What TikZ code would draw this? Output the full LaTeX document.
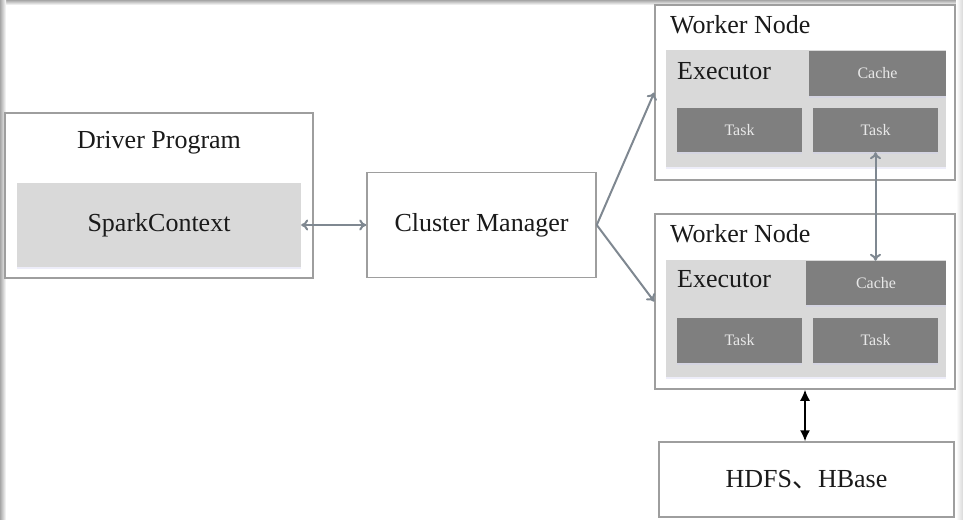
\documentclass[tikz,border=0pt]{standalone}
\usepackage{fontspec}
\setmainfont{Liberation Serif}
\newfontfamily\cjk{Noto Sans CJK SC}
\usetikzlibrary{arrows.meta,shadows}
\definecolor{boxline}{HTML}{9E9E9E}
\definecolor{lightfill}{HTML}{D9D9D9}
\definecolor{darkfill}{HTML}{7F7F7F}
\definecolor{arrowgray}{HTML}{7F8891}
\definecolor{txt}{HTML}{1A1A1A}
\definecolor{smalltxt}{HTML}{E8E8E8}
\tikzset{
  frame/.style={draw=boxline, line width=1.5pt, fill=white, inner sep=0pt},
  lightbox/.style={fill=lightfill, draw=none, inner sep=0pt,
    drop shadow={shadow xshift=0pt, shadow yshift=-2pt, fill=black!30!blue!20, opacity=0.35}},
  darkbox/.style={fill=darkfill, draw=none, inner sep=0pt, text=smalltxt,
    font=\fontsize{16}{18}\selectfont,
    drop shadow={shadow xshift=0pt, shadow yshift=-2pt, fill=black!30!blue!20, opacity=0.35}},
  bigtext/.style={text=txt, font=\fontsize{26}{30}\selectfont, inner sep=0pt},
  garrow/.style={draw=arrowgray, line width=2pt, {To[length=7pt,width=11pt]}-{To[length=7pt,width=11pt]}},
  garrowone/.style={draw=arrowgray, line width=2pt, -{To[length=7pt,width=11pt]}},
  barrow/.style={draw=black, line width=1.5pt, {Latex[length=11pt,width=10pt]}-{Latex[length=11pt,width=10pt]}},
}
\begin{document}
\begin{tikzpicture}[x=1pt,y=-1pt]
\useasboundingbox (0,0) rectangle (963,519);
% page frame shadows
\shade[top color=black!35, bottom color=white] (0,0) rectangle (963,5);
\shade[left color=black!35, right color=white] (0,0) rectangle (6,519);
\shade[left color=white, right color=black!15] (956,0) rectangle (963,519);

% Driver
\node[frame, minimum width=308pt, minimum height=165pt] (driver) at (159,195.5) {};
\node[bigtext] (drivertxt) at (159,143) {Driver Program};
\node[lightbox, bigtext, minimum width=284pt, minimum height=84pt] (sc) at (159,225) {SparkContext};

% Cluster manager
\node[frame, bigtext, minimum width=229pt, minimum height=105pt] (cm) at (481.5,225) {Cluster Manager};

% Worker 1
\node[frame, minimum width=300pt, minimum height=175pt] (w1) at (805,92.5) {};
\node[bigtext, anchor=west] (w1txt) at (670,25) {Worker Node};
\node[lightbox, minimum width=280pt, minimum height=117pt] (e1) at (806,108.5) {};
\node[bigtext, anchor=west] (e1txt) at (677,71) {Executor};
\node[darkbox, minimum width=137pt, minimum height=45pt] (c1) at (877.5,73.5) {Cache};
\node[darkbox, minimum width=125pt, minimum height=44pt] (t1a) at (739.5,130) {Task};
\node[darkbox, minimum width=125pt, minimum height=44pt] (t1b) at (875.5,130) {Task};

% Worker 2
\node[frame, minimum width=300pt, minimum height=175pt] (w2) at (805,301.5) {};
\node[bigtext, anchor=west] (w2txt) at (670,234) {Worker Node};
\node[lightbox, minimum width=280pt, minimum height=117pt] (e2) at (806,318.5) {};
\node[bigtext, anchor=west] (e2txt) at (677,279) {Executor};
\node[darkbox, minimum width=140pt, minimum height=44pt] (c2) at (876,283) {Cache};
\node[darkbox, minimum width=125pt, minimum height=45pt] (t2a) at (739.5,340.5) {Task};
\node[darkbox, minimum width=125pt, minimum height=45pt] (t2b) at (875.5,340.5) {Task};

% HDFS
\node[frame, bigtext, minimum width=295pt, minimum height=75pt] (hdfs) at (806.5,479.5) {HDFS{\cjk 、}HBase};

% connectors
\draw[garrow] (sc.east) -- (sc.east -| cm.west);
\draw[garrowone] (cm.east) -- (w1.west);
\draw[garrowone] (cm.east) -- (w2.west);
\draw[garrow] (t1b.south) -- (t1b.south |- c2.north);
\draw[barrow] (w2.south) -- (w2.south |- hdfs.north);
\end{tikzpicture}
\end{document}
